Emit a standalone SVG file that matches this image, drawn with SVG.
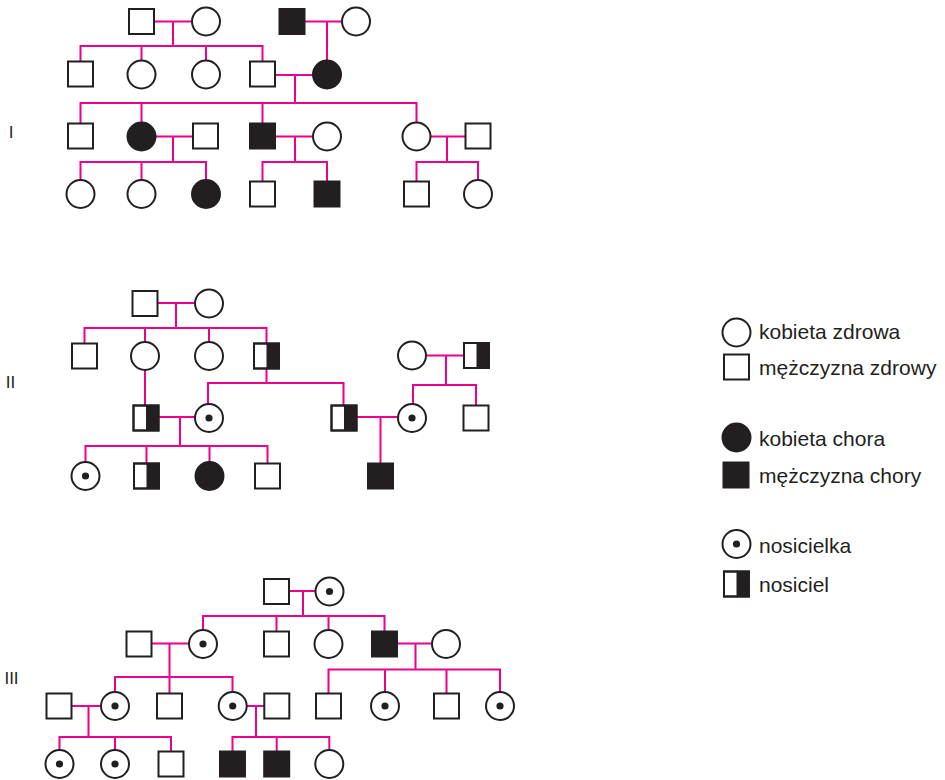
<svg xmlns="http://www.w3.org/2000/svg" width="945" height="780" viewBox="0 0 945 780">
<style>
.ln{stroke:#EC008C;stroke-width:2;fill:none}
.s{fill:#fff;stroke:#231F20;stroke-width:2}
.a{fill:#231F20;stroke:#231F20;stroke-width:2}
.d{fill:#231F20}
.t{font-family:"Liberation Sans",Arial,sans-serif;font-size:21px;fill:#231F20}
.g{font-family:"Liberation Sans",Arial,sans-serif;font-size:17px;fill:#231F20;text-anchor:middle}
</style>
<defs>
<rect id="sq" x="-12.5" y="-12.5" width="25" height="25" class="s"/>
<rect id="sqA" x="-12.5" y="-12.5" width="25" height="25" class="a"/>
<circle id="ci" r="14" class="s"/>
<circle id="ciA" r="14" class="a"/>
<g id="ciC"><circle r="14" class="s"/><circle r="3.6" class="d"/></g>
<g id="sqC"><rect x="-12.5" y="-12.5" width="25" height="25" class="s"/><rect x="0" y="-12.5" width="12.5" height="25" class="d"/><rect x="-12.5" y="-12.5" width="25" height="25" fill="none" stroke="#231F20" stroke-width="2"/></g>
</defs>

<g id="connectors" class="ln">
<!-- Pedigree I -->
<path d="M154 21.5H192M173 21.5V46M80.5 61.5V46H262.5V61.5M141.5 60V46M206 60V46"/>
<path d="M304.5 21.5H342M327 21.5V60"/>
<path d="M275 75H313M295 75V103M80.5 123.5V103H416.5V122M141.5 122V103M262.5 123.5V103"/>
<path d="M155.5 136.5H193M173 136.5V162M80.5 180V162H206V180M141.5 180V162"/>
<path d="M275 136.5H313M295 136.5V162M262.5 181.5V162H327V181.5"/>
<path d="M430.5 136.5H465.5M447 136.5V162M416.5 181.5V162H478V180"/>
<!-- Pedigree II -->
<path d="M157.5 303H195M176 303V328M84.5 343.5V328H266.5V343.5M145 342V328M209 342V328"/>
<path d="M145 370V405.5"/>
<path d="M266.5 368.5V383M208 404V383H343.5V405.5"/>
<path d="M426 355.5H464M446 355.5V385M413 404V385H476V405.5"/>
<path d="M158.5 417H195M180 417V446M85.5 462V446H267.5V463.5M146.5 463.5V446M209.5 462V446"/>
<path d="M356.5 417H398M380.5 417V463.5"/>
<!-- Pedigree III -->
<path d="M289 591H315.5M303 591V616M203 630V616H384.5V631.5M276.5 631.5V616M328.5 630V616"/>
<path d="M151.5 643.5H189M169.5 643.5V677M115 692V677H232.5V692M169.5 693.5V677"/>
<path d="M397 643.5H432M415.5 643.5V669.5M328.5 693.5V669.5H500V692M385 692V669.5M446.5 693.5V669.5"/>
<path d="M71.5 706H101M88.5 706V737M59.5 750V737H171V751.5M115 750V737"/>
<path d="M246.7 706H264.3M256 706V737M232.5 751.5V737H329.3V750M276.7 751.5V737"/>
</g>

<!-- Pedigree I nodes -->
<g id="I-1"><use href="#sq" x="141.5" y="21.5"/></g>
<g id="I-2"><use href="#ci" x="206" y="21.5"/></g>
<g id="I-3"><use href="#sqA" x="292" y="21.5"/></g>
<g id="I-4"><use href="#ci" x="356" y="21.5"/></g>
<g id="I-5"><use href="#sq" x="80.5" y="74"/></g>
<g id="I-6"><use href="#ci" x="141.5" y="74.5"/></g>
<g id="I-7"><use href="#ci" x="206" y="74.5"/></g>
<g id="I-8"><use href="#sq" x="262.5" y="74"/></g>
<g id="I-9"><use href="#ciA" x="327" y="74.5"/></g>
<g id="I-10"><use href="#sq" x="80.5" y="136"/></g>
<g id="I-11"><use href="#ciA" x="141.5" y="136.5"/></g>
<g id="I-12"><use href="#sq" x="205.5" y="136"/></g>
<g id="I-13"><use href="#sqA" x="262.5" y="136"/></g>
<g id="I-14"><use href="#ci" x="327" y="136.5"/></g>
<g id="I-15"><use href="#ci" x="416.5" y="136.5"/></g>
<g id="I-16"><use href="#sq" x="478" y="136"/></g>
<g id="I-17"><use href="#ci" x="80.5" y="194"/></g>
<g id="I-18"><use href="#ci" x="141.5" y="194"/></g>
<g id="I-19"><use href="#ciA" x="206" y="194"/></g>
<g id="I-20"><use href="#sq" x="262.5" y="194"/></g>
<g id="I-21"><use href="#sqA" x="327" y="194"/></g>
<g id="I-22"><use href="#sq" x="416.5" y="194"/></g>
<g id="I-23"><use href="#ci" x="478" y="194"/></g>

<!-- Pedigree II nodes -->
<g id="II-1"><use href="#sq" x="145" y="303.5"/></g>
<g id="II-2"><use href="#ci" x="209" y="303.5"/></g>
<g id="II-3"><use href="#sq" x="84.5" y="356"/></g>
<g id="II-4"><use href="#ci" x="145" y="356"/></g>
<g id="II-5"><use href="#ci" x="209" y="356"/></g>
<g id="II-6"><use href="#sqC" x="266.5" y="356"/></g>
<g id="II-7"><use href="#ci" x="412" y="355.5"/></g>
<g id="II-8"><use href="#sqC" x="476.5" y="355.5"/></g>
<g id="II-9"><use href="#sqC" x="146" y="418"/></g>
<g id="II-10"><use href="#ciC" x="209" y="418"/></g>
<g id="II-11"><use href="#sqC" x="344" y="418"/></g>
<g id="II-12"><use href="#ciC" x="412" y="418"/></g>
<g id="II-13"><use href="#sq" x="476" y="418"/></g>
<g id="II-14"><use href="#ciC" x="85.5" y="476"/></g>
<g id="II-15"><use href="#sqC" x="146.5" y="476"/></g>
<g id="II-16"><use href="#ciA" x="209.5" y="476"/></g>
<g id="II-17"><use href="#sq" x="267.5" y="476"/></g>
<g id="II-18"><use href="#sqA" x="380.5" y="476"/></g>

<!-- Pedigree III nodes -->
<g id="III-1"><use href="#sq" x="276.5" y="591.5"/></g>
<g id="III-2"><use href="#ciC" x="329.5" y="591.5"/></g>
<g id="III-3"><use href="#sq" x="139" y="644"/></g>
<g id="III-4"><use href="#ciC" x="203" y="644"/></g>
<g id="III-5"><use href="#sq" x="276.5" y="644"/></g>
<g id="III-6"><use href="#ci" x="328.5" y="644"/></g>
<g id="III-7"><use href="#sqA" x="384.5" y="644"/></g>
<g id="III-8"><use href="#ci" x="446" y="644"/></g>
<g id="III-9"><use href="#sq" x="59" y="706"/></g>
<g id="III-10"><use href="#ciC" x="115" y="706"/></g>
<g id="III-11"><use href="#sq" x="169.5" y="706"/></g>
<g id="III-12"><use href="#ciC" x="232.7" y="706"/></g>
<g id="III-13"><use href="#sq" x="276.8" y="706"/></g>
<g id="III-14"><use href="#sq" x="328.5" y="706"/></g>
<g id="III-15"><use href="#ciC" x="385" y="706"/></g>
<g id="III-16"><use href="#sq" x="446.5" y="706"/></g>
<g id="III-17"><use href="#ciC" x="500" y="706"/></g>
<g id="III-18"><use href="#ciC" x="59.5" y="764"/></g>
<g id="III-19"><use href="#ciC" x="115" y="764"/></g>
<g id="III-20"><use href="#sq" x="171" y="764"/></g>
<g id="III-21"><use href="#sqA" x="232.5" y="764"/></g>
<g id="III-22"><use href="#sqA" x="276.7" y="764"/></g>
<g id="III-23"><use href="#ci" x="329.3" y="764"/></g>

<!-- Generation labels -->
<g id="labels">
<text class="g" x="11" y="137.5">I</text>
<text class="g" x="10.5" y="388">II</text>
<text class="g" x="11.5" y="684">III</text>
</g>

<!-- Legend -->
<g id="legend">
<g id="lg-1"><use href="#ci" x="736.5" y="332.5"/><text class="t" x="759" y="338.5">kobieta zdrowa</text></g>
<g id="lg-2"><use href="#sq" x="736.5" y="367"/><text class="t" x="759" y="375">mężczyzna zdrowy</text></g>
<g id="lg-3"><use href="#ciA" x="736.5" y="437.5"/><text class="t" x="759" y="445.5">kobieta chora</text></g>
<g id="lg-4"><use href="#sqA" x="736" y="475"/><text class="t" x="759" y="482.5">mężczyzna chory</text></g>
<g id="lg-5"><use href="#ciC" x="736.5" y="544"/><text class="t" x="759" y="553">nosicielka</text></g>
<g id="lg-6"><use href="#sqC" x="736.5" y="584"/><text class="t" x="759" y="591.5">nosiciel</text></g>
</g>
</svg>
